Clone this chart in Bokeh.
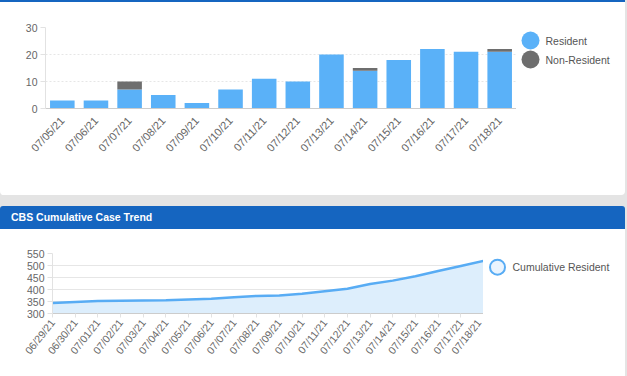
from bokeh.plotting import figure
from bokeh.models import ColumnDataSource, FactorRange, Range1d, FixedTicker, Div
from bokeh.layouts import column, row
from bokeh.core.properties import value
from bokeh.embed import file_html
from bokeh.resources import INLINE

# ---------------- data ----------------
dates = ["07/05/21", "07/06/21", "07/07/21", "07/08/21", "07/09/21", "07/10/21", "07/11/21",
         "07/12/21", "07/13/21", "07/14/21", "07/15/21", "07/16/21", "07/17/21", "07/18/21"]
resident = [3, 3, 7, 5, 2, 7, 11, 10, 20, 14, 18, 22, 21, 21]
non_resident = [0, 0, 3, 0, 0, 0, 0, 0, 0, 1, 0, 0, 0, 1]
bar_ticks = [0, 10, 20, 30]
bar_series = ["Resident", "Non-Resident"]

cum_dates = ["06/29/21", "06/30/21", "07/01/21", "07/02/21", "07/03/21", "07/04/21", "07/05/21",
             "07/06/21", "07/07/21", "07/08/21", "07/09/21", "07/10/21", "07/11/21", "07/12/21",
             "07/13/21", "07/14/21", "07/15/21", "07/16/21", "07/17/21", "07/18/21"]
cum_resident = [344, 348, 352, 353, 354, 355, 358, 361, 368, 373, 375, 382, 393, 403,
                423, 437, 455, 477, 498, 519]
cum_ticks = [300, 350, 400, 450, 500, 550]
cum_series = ["Cumulative Resident"]
panel_title = "CBS Cumulative Case Trend"

# ---------------- styles ----------------
FONT = "Liberation Sans"
BLUE_BAR = "#5ab1f8"
GRAY_BAR = "#6e6e6e"
LINE_BLUE = "#58acf4"
AREA_BLUE = "#ddeefc"
HEADER_BLUE = "#1565c0"
PAGE_GRAY = "#e4e4e4"
TICK_COLOR = "#666666"
GRID = "#e6e6e6"


def style_axes(p, xsize, ysize):
    for ax in p.yaxis:
        ax.major_label_text_font = FONT
        ax.major_label_text_font_size = ysize
        ax.major_label_text_color = TICK_COLOR
        ax.axis_line_color = "#e2e2e2"
        ax.major_tick_line_color = "#e2e2e2"
        ax.major_tick_out = 5
        ax.major_tick_in = 0
        ax.minor_tick_line_color = None
        ax.major_label_standoff = 3
    for ax in p.xaxis:
        ax.major_label_text_font = FONT
        ax.major_label_text_font_size = xsize
        ax.major_label_text_color = TICK_COLOR
        ax.axis_line_color = "#cccccc"
        ax.minor_tick_line_color = None


def legend_fig(w, h):
    # legend panel: its frame is aligned with the neighbouring chart's frame
    f = figure(frame_width=w, frame_height=h, x_range=Range1d(0, w), y_range=Range1d(0, h),
               min_border=0, output_backend="svg", toolbar_location=None,
               outline_line_color=None, border_fill_color="white",
               background_fill_color="white", x_axis_location=None, y_axis_location=None)
    f.grid.visible = False
    return f


# ---------------- top bar chart ----------------
src = ColumnDataSource(dict(date=dates, res=resident, nonres=non_resident))
p1 = figure(x_range=FactorRange(*dates), y_range=Range1d(bar_ticks[0], bar_ticks[-1]),
            frame_width=471, frame_height=81,
            min_border_left=45, min_border_right=0, min_border_top=25, min_border_bottom=87,
            output_backend="svg", toolbar_location=None,
            outline_line_color=None, border_fill_color="white", background_fill_color="white")
p1.vbar_stack(["res", "nonres"], x="date", width=0.73, source=src,
              fill_color=[BLUE_BAR, GRAY_BAR], line_color=None)
p1.yaxis.ticker = FixedTicker(ticks=bar_ticks)
p1.xgrid.visible = False
p1.ygrid.grid_line_color = GRID
p1.ygrid.grid_line_dash = "2 2"
style_axes(p1, "11px", "10.5px")
p1.xaxis.major_label_orientation = 0.82
p1.xaxis.major_tick_line_color = None
p1.xaxis.major_label_standoff = 4

F1 = 81
leg1 = legend_fig(109, F1)
leg_src1 = ColumnDataSource(dict(x=[14, 14], y=[F1 - 13, F1 - 32], tx=[29, 29],
                                 name=bar_series, color=[BLUE_BAR, GRAY_BAR]))
leg1.scatter(x="x", y="y", size=18, marker="circle", fill_color="color", line_color=None,
             source=leg_src1)
leg1.text(x="tx", y="y", text="name", source=leg_src1, text_font=value(FONT),
          text_font_size="10.5px", text_color="#555555", text_baseline="middle")

# ---------------- bottom line chart ----------------
n = len(cum_dates)
idx = list(range(n))
src2 = ColumnDataSource(dict(x=idx, y=cum_resident, base=[cum_ticks[0]] * n))
p2 = figure(x_range=Range1d(0, n - 1), y_range=Range1d(cum_ticks[0], cum_ticks[-1]),
            frame_width=431, frame_height=60,
            min_border_left=52, min_border_right=0, min_border_top=24, min_border_bottom=63,
            output_backend="svg", toolbar_location=None,
            outline_line_color=None, border_fill_color="white", background_fill_color="white")
p2.varea(x="x", y1="base", y2="y", source=src2, fill_color=AREA_BLUE, fill_alpha=1)
p2.line(x="x", y="y", source=src2, line_color=LINE_BLUE, line_width=2.5)
p2.yaxis.ticker = FixedTicker(ticks=cum_ticks)
p2.xaxis.ticker = FixedTicker(ticks=idx)
p2.xaxis.major_label_overrides = {i: d for i, d in enumerate(cum_dates)}
p2.xgrid.visible = False
p2.ygrid.grid_line_color = GRID
style_axes(p2, "10.5px", "10.5px")
p2.xaxis.major_label_orientation = 0.9
p2.xaxis.major_tick_line_color = "#e2e2e2"
p2.xaxis.major_tick_out = 4
p2.xaxis.major_tick_in = 0
p2.xaxis.major_label_standoff = 3

F2 = 60
leg2 = legend_fig(142, F2)
leg_src2 = ColumnDataSource(dict(x=[14], y=[F2 - 13.7], tx=[29], name=cum_series))
leg2.scatter(x="x", y="y", size=15, marker="circle", fill_color="#eaf4fe",
             line_color=LINE_BLUE, line_width=2, source=leg_src2)
leg2.text(x="tx", y="y", text="name", source=leg_src2, text_font=value(FONT),
          text_font_size="10.5px", text_color="#555555", text_baseline="middle")

# ---------------- page layout ----------------
top_strip = Div(text="", width=625, height=2, margin=0,
                styles={"background-color": HEADER_BLUE})
gap = Div(text="", width=625, height=11, margin=0)
header = Div(text=('<div style="padding-left:11px;line-height:23px;color:white;'
                   'font-family:\'Liberation Sans\',Arial,sans-serif;font-weight:bold;'
                   'font-size:10.5px;white-space:nowrap;">' + panel_title + '</div>'),
             width=625, height=23, margin=0,
             styles={"background-color": HEADER_BLUE, "border-radius": "3px 3px 0 0"})

top_row = row(p1, leg1, spacing=0, width=625, height=193, margin=0,
              styles={"background-color": "white", "overflow": "hidden",
                      "border-radius": "0 0 4px 4px"})
bottom_row = row(p2, leg2, spacing=0, width=625, height=147, margin=0,
                 styles={"background-color": "white", "overflow": "hidden"})
page = column(top_strip, top_row, gap, header, bottom_row, spacing=0, width=627, height=376,
              styles={"background-color": PAGE_GRAY})

open("out.html", "w").write(file_html(page, INLINE))
